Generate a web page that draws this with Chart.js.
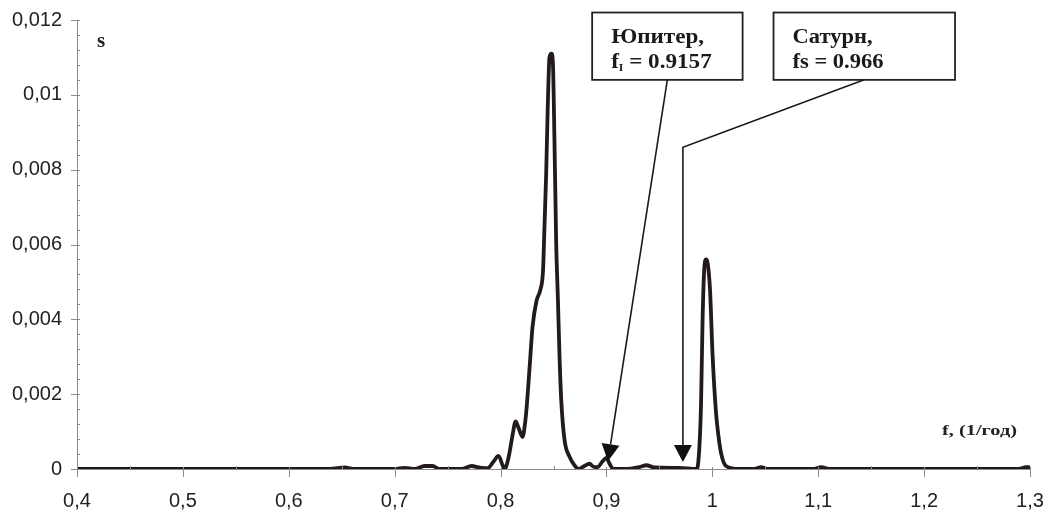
<!DOCTYPE html>
<html><head><meta charset="utf-8">
<script src="https://cdn.jsdelivr.net/npm/chart.js@4.4.1/dist/chart.umd.min.js"></script>
<style>html,body{margin:0;padding:0;background:#fff;overflow:hidden}</style>
</head><body>
<canvas id="c" width="1046" height="513"></canvas>
<script>
const freq = [0.4,0.516,0.6387,0.6528,0.6623,0.7,0.7094,0.7189,0.7283,0.7358,0.7425,0.7632,0.7726,0.7802,0.7877,0.7934,0.7981,0.8019,0.8038,0.8075,0.8113,0.8142,0.817,0.8208,0.8226,0.8245,0.8274,0.8302,0.834,0.8377,0.8401,0.8415,0.8431,0.8446,0.8462,0.8481,0.8495,0.8509,0.8525,0.8542,0.8557,0.8573,0.8604,0.8651,0.8698,0.8736,0.8792,0.884,0.8877,0.8915,0.8962,0.9,0.9028,0.9066,0.917,0.9311,0.9377,0.9453,0.9689,0.9849,0.9868,0.9893,0.9908,0.9925,0.9941,0.9956,0.9978,1.0003,1.0035,1.0057,1.0082,1.0129,1.0255,1.0396,1.0462,1.0519,1.0962,1.1028,1.1104,1.2896,1.2962,1.2991];
const power = [0,0,0,0.00004,0,0,0.00003,0,0.00008,0.00008,0,0,0.00008,0.00004,0.00002,0.0002,0.00035,0.0001,0,0.0003,0.0009,0.00127,0.0011,0.00086,0.0011,0.0016,0.0027,0.0038,0.0045,0.0048,0.0053,0.0065,0.0079,0.0097,0.011,0.0111,0.0108,0.0088,0.0061,0.0045,0.003,0.00185,0.00078,0.00033,0.0001,0,0.00008,0.00014,0.00006,0.00005,0.0002,0.0003,0.00015,0,0,0.00005,0.0001,0.00004,0.00003,0,0.0002,0.0017,0.004,0.0054,0.0056,0.0055,0.0048,0.003,0.0015,0.0009,0.00043,0.00008,0,0,0.00005,0,0,0.00005,0,0,0.00005,0.00005];

const xTicks = [0.4,0.5,0.6,0.7,0.8,0.9,1.0,1.1,1.2,1.3];
const xTickLabels = ['0,4','0,5','0,6','0,7','0,8','0,9','1','1,1','1,2','1,3'];
const yTicks = [0,0.002,0.004,0.006,0.008,0.01,0.012];
const yTickLabels = ['0','0,002','0,004','0,006','0,008','0,01','0,012'];

// annotation labels
const noteTitles = ['Юпитер,','Сатурн,'];
const noteFreqText = [' = 0.9157',' = 0.966'];
const noteSymbols = [['f','I'],['fs','']];
// annotation geometry in data units: box [left,right,top,bottom], leader path, arrow tip
const noteBoxes = [[0.8865,1.0286,0.0122,0.0104],[1.0578,1.2292,0.0122,0.0104]];
const notePaths = [[[0.9575,0.0104],[0.9014,0.00021]],[[1.1434,0.0104],[0.9722,0.0086],[0.9722,0.00019]]];

const fmt = (arr) => (v, i) => arr[i];

const decor = {
  id: 'decor',
  afterDatasetsDraw(chart) {
    const ctx = chart.ctx, xs = chart.scales.x, ys = chart.scales.y;
    const X = v => xs.getPixelForValue(v), Y = v => ys.getPixelForValue(v);
    const x0 = X(0.4), y0 = Y(0);
    ctx.save();
    ctx.strokeStyle = '#8c8c8c';
    ctx.lineWidth = 1;
    // x ticks
    for (let i = 0; i < xTicks.length; i++) {
      const px = Math.round(X(xTicks[i])) + 0.5;
      ctx.beginPath(); ctx.moveTo(px, y0 - 2); ctx.lineTo(px, y0 + 8); ctx.stroke();
      if (i < xTicks.length - 1) {
        const mx = Math.round(X((xTicks[i] + xTicks[i+1]) / 2)) + 0.5;
        ctx.beginPath(); ctx.moveTo(mx, y0 - 3); ctx.lineTo(mx, y0); ctx.stroke();
      }
    }
    // y ticks
    for (let i = 0; i < yTicks.length; i++) {
      const py = Math.round(Y(yTicks[i])) + 0.5;
      ctx.beginPath(); ctx.moveTo(x0 - 6, py); ctx.lineTo(x0 + 3, py); ctx.stroke();
      if (i < yTicks.length - 1) {
        for (let k = 1; k < 5; k++) {
          const my = Math.round(Y(yTicks[i] + (yTicks[i+1] - yTicks[i]) * k / 5)) + 0.5;
          ctx.beginPath(); ctx.moveTo(x0, my); ctx.lineTo(x0 + 3, my); ctx.stroke();
        }
      }
    }
    // axis titles
    ctx.fillStyle = '#222';
    ctx.font = 'bold 21px "Liberation Serif"';
    ctx.textBaseline = 'alphabetic';
    ctx.fillText('s', 97, 47);
    ctx.font = 'bold 15px "Liberation Serif"';
    const t = 'f, (1/год)';
    const w = ctx.measureText(t).width;
    ctx.save(); ctx.translate(942, 435); ctx.scale(75 / w, 1); ctx.fillText(t, 0, 0); ctx.restore();

    // annotations
    const titleW = [93, 80];
    for (let n = 0; n < noteBoxes.length; n++) {
      const b = noteBoxes[n];
      const l = X(b[0]), r = X(b[1]), tp = Y(b[2]), bt = Y(b[3]);
      ctx.fillStyle = '#fff';
      ctx.fillRect(l, tp, r - l, bt - tp);
      ctx.lineWidth = 1.8;
      ctx.strokeStyle = '#222';
      ctx.strokeRect(l, tp, r - l, bt - tp);
      // text
      ctx.fillStyle = '#1a1a1a';
      ctx.font = 'bold 20px "Liberation Serif"';
      const tw = ctx.measureText(noteTitles[n]).width;
      const sx = titleW[n] / tw;
      const tx = l + 19;
      ctx.save(); ctx.translate(tx, tp + 30); ctx.scale(sx, 1);
      ctx.fillText(noteTitles[n], 0, 0);
      let cx = 0;
      ctx.fillText(noteSymbols[n][0], cx, 25); cx += ctx.measureText(noteSymbols[n][0]).width;
      if (noteSymbols[n][1]) {
        ctx.font = 'bold 10px "Liberation Serif"';
        ctx.fillText(noteSymbols[n][1], cx, 28); cx += ctx.measureText(noteSymbols[n][1]).width;
      }
      ctx.font = 'bold 20px "Liberation Serif"';
      ctx.fillText(noteFreqText[n], cx, 25);
      ctx.restore();
      // leader
      const p = notePaths[n];
      ctx.lineWidth = 1.6;
      ctx.strokeStyle = '#1a1a1a';
      ctx.beginPath();
      ctx.moveTo(X(p[0][0]), Y(p[0][1]));
      for (let k = 1; k < p.length - 1; k++) ctx.lineTo(X(p[k][0]), Y(p[k][1]));
      const a = p[p.length - 2], e = p[p.length - 1];
      const ex = X(e[0]), ey = Y(e[1]);
      const ang = Math.atan2(ey - Y(a[1]), ex - X(a[0]));
      const hl = 17, hw = 9;
      const bx = ex - Math.cos(ang) * hl, by = ey - Math.sin(ang) * hl;
      ctx.lineTo(bx, by);
      ctx.stroke();
      ctx.beginPath();
      ctx.moveTo(ex, ey);
      ctx.lineTo(bx + Math.sin(ang) * hw, by - Math.cos(ang) * hw);
      ctx.lineTo(bx - Math.sin(ang) * hw, by + Math.cos(ang) * hw);
      ctx.closePath();
      ctx.fillStyle = '#111';
      ctx.fill();
    }
    ctx.restore();
  }
};

new Chart(document.getElementById('c'), {
  type: 'line',
  data: {
    datasets: [{
      data: freq.map((f, i) => ({x: f, y: power[i]})),
      borderColor: '#221a1e',
      borderWidth: 3.8,
      pointRadius: 0,
      cubicInterpolationMode: 'monotone',
      borderJoinStyle: 'round',
      borderCapStyle: 'round',
      fill: false
    }]
  },
  options: {
    responsive: false,
    animation: false,
    devicePixelRatio: 1,
    layout: {padding: {left: 0, right: 16, top: 20, bottom: 0}},
    plugins: {legend: {display: false}, tooltip: {enabled: false}},
    scales: {
      x: {
        type: 'linear', min: 0.4, max: 1.3,
        afterBuildTicks: s => { s.ticks = xTicks.map(v => ({value: v})); },
        afterFit: s => { s.height = 44; },
        ticks: {callback: fmt(xTickLabels), padding: 0, color: '#222', font: {family: '"Liberation Sans", Arial', size: 20}, maxRotation: 0, autoSkip: false},
        grid: {display: true, drawOnChartArea: false, drawTicks: true, tickLength: 20, tickColor: 'rgba(0,0,0,0)'},
        border: {display: true, color: '#8c8c8c', width: 1}
      },
      y: {
        type: 'linear', min: 0, max: 0.012,
        afterBuildTicks: s => { s.ticks = yTicks.map(v => ({value: v})); },
        afterFit: s => { s.width = 77; },
        ticks: {callback: fmt(yTickLabels), padding: 0, color: '#222', font: {family: '"Liberation Sans", Arial', size: 20}, autoSkip: false},
        grid: {display: true, drawOnChartArea: false, drawTicks: true, tickLength: 15, tickColor: 'rgba(0,0,0,0)'},
        border: {display: true, color: '#8c8c8c', width: 1}
      }
    }
  },
  plugins: [decor]
});
</script>
</body></html>
